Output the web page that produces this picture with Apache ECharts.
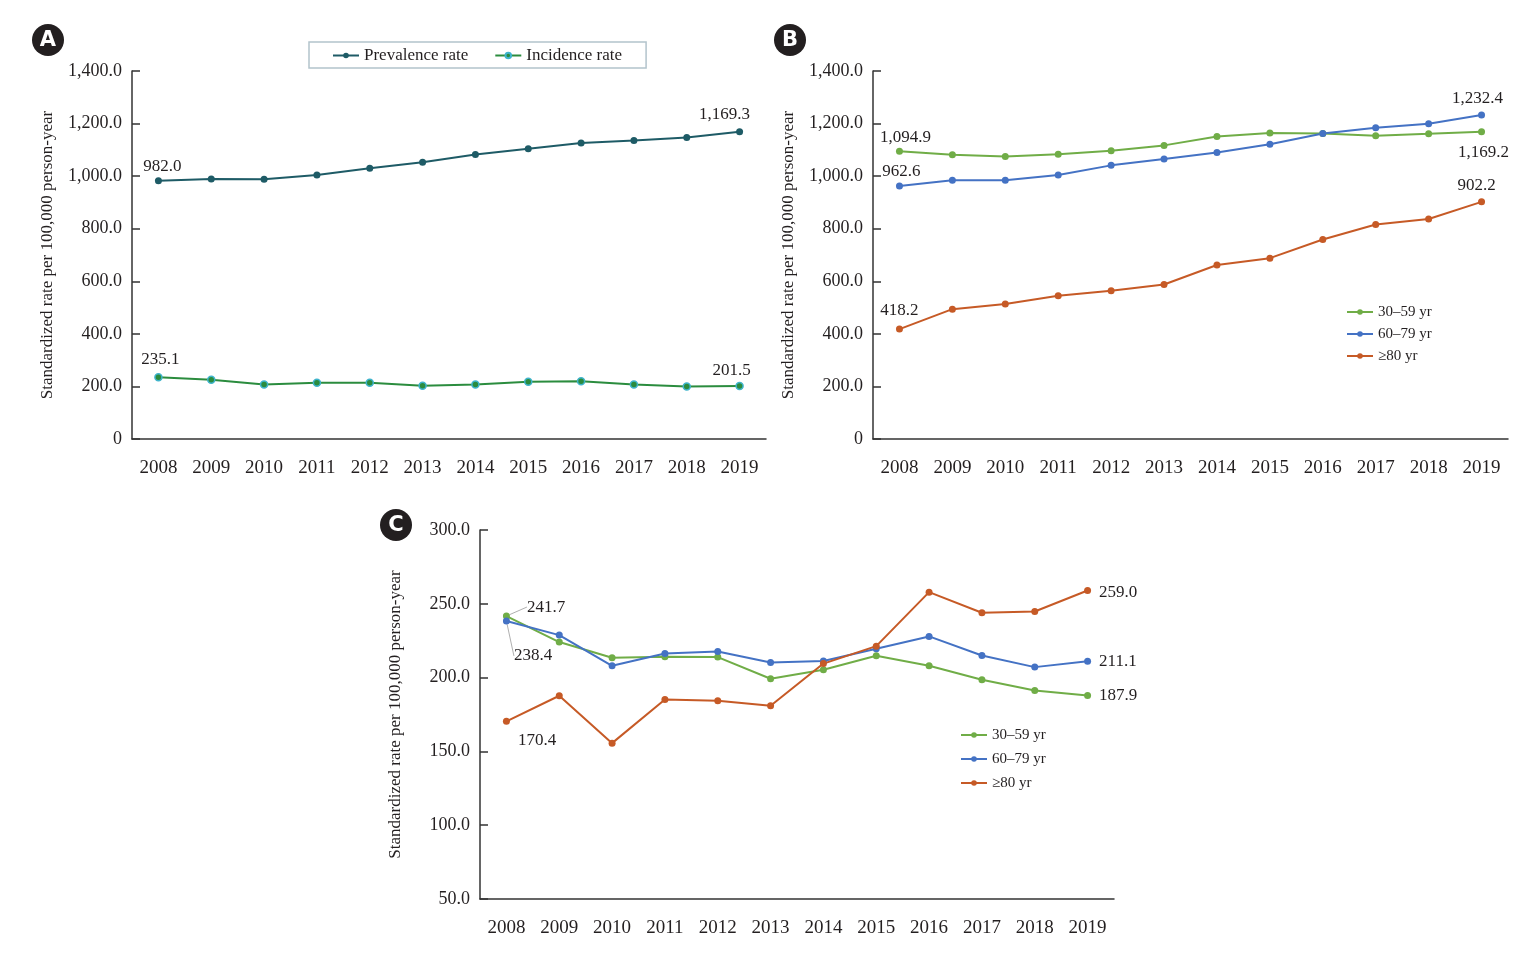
<!DOCTYPE html>
<html>
<head>
<meta charset="utf-8">
<title>Standardized rates 2008-2019</title>
<script src="https://cdn.jsdelivr.net/npm/echarts@6/dist/echarts.min.js"></script>
<style>
  html, body { margin: 0; padding: 0; background: #fff; }
  #main { width: 1539px; height: 963px; }
</style>
</head>
<body>
<div id="main"></div>
<script>
// data
var years = ['2008', '2009', '2010', '2011', '2012', '2013', '2014', '2015', '2016', '2017', '2018', '2019'];

// panel A
var prevalenceRate = [982.0, 989, 988, 1004, 1030, 1053, 1082, 1104, 1126, 1136, 1147, 1169.3];
var incidenceRate = [235.1, 225, 207, 214, 214, 203, 207, 218, 220, 207, 200, 201.5];

// panel B (prevalence by age)
var ageNames = ['30–59 yr', '60–79 yr', '≥80 yr'];
var prev3059 = [1094.9, 1081, 1075, 1083, 1097, 1117, 1151, 1164, 1162, 1154, 1161, 1169.2];
var prev6079 = [962.6, 984, 984, 1004, 1041, 1065, 1090, 1121, 1162, 1184, 1199, 1232.4];
var prev80 = [418.2, 494, 514, 545, 564, 588, 662, 688, 759, 816, 837, 902.2];

// panel C (incidence by age)
var inc3059 = [241.7, 224.1, 213.4, 214.1, 213.9, 199.2, 205.3, 214.8, 208.0, 198.5, 191.3, 187.9];
var inc6079 = [238.4, 228.8, 208.0, 216.3, 217.7, 210.3, 211.2, 219.5, 227.9, 215.0, 207.1, 211.1];
var inc80 = [170.4, 187.7, 155.6, 185.2, 184.3, 180.9, 209.5, 221.3, 257.9, 243.9, 244.8, 259.0];

// y axis ranges [min, max, interval]
var rangeAB = [0, 1400, 200];
var rangeC = [50, 300, 50];

var serif = '"Liberation Serif", "DejaVu Serif", serif';
var textColor = '#231f20';
var axisColor = '#333';
var colTeal = '#1e5b66', colIncid = '#2b8c3e';
var colGreen = '#70ad47', colBlue = '#4472c4', colOrange = '#c65a26';

function fmt(v) {
  if (v === 0) return '0';
  return v.toLocaleString('en-US', { minimumFractionDigits: 1, maximumFractionDigits: 1 });
}

// turn plain values into data items, labelling only the given indexes
function withLabels(values, marks) {
  return values.map(function (v, i) {
    if (marks[i]) {
      var item = { value: v, label: Object.assign({ show: true }, marks[i].label) };
      if (marks[i].labelLine) item.labelLine = marks[i].labelLine;
      return item;
    }
    return v;
  });
}

function xAxisOf(gi) {
  return {
    type: 'category', gridIndex: gi, data: years, boundaryGap: true,
    axisLine: { lineStyle: { color: axisColor, width: 1.5 } },
    axisTick: { alignWithLabel: true, inside: true, length: 7, lineStyle: { color: axisColor, width: 1.5 } },
    axisLabel: { color: textColor, fontFamily: serif, fontSize: 19, margin: 20 },
    splitLine: { show: false }
  };
}

function yAxisOf(gi, range) {
  return {
    type: 'value', gridIndex: gi, min: range[0], max: range[1], interval: range[2],
    name: 'Standardized rate per 100,000 person-year',
    nameLocation: 'middle', nameGap: 76,
    nameTextStyle: { color: textColor, fontFamily: serif, fontSize: 17 },
    axisLine: { show: true, lineStyle: { color: axisColor, width: 1.5 } },
    axisTick: { show: true, inside: true, length: 8, lineStyle: { color: axisColor, width: 1.5 } },
    axisLabel: { color: textColor, fontFamily: serif, fontSize: 18, margin: 10, formatter: fmt },
    splitLine: { show: false }
  };
}

function lineOf(name, gi, color, data, extra) {
  var s = {
    name: name, type: 'line', xAxisIndex: gi, yAxisIndex: gi,
    data: data, symbol: 'circle', symbolSize: 7, showSymbol: true,
    lineStyle: { color: color, width: 2 },
    itemStyle: { color: color },
    label: { show: false, color: textColor, fontFamily: serif, fontSize: 17,
      formatter: function (p) { return fmt(p.value); } },
    emphasis: { disabled: true },
    z: 3
  };
  return Object.assign(s, extra || {});
}

function badge(x, y, letter) {
  return {
    type: 'group', children: [
      { type: 'circle', shape: { cx: x, cy: y, r: 16 }, style: { fill: '#231f20' } },
      { type: 'text', x: x, y: y + 1, style: { text: letter, fill: '#fff', font: 'bold 21px "DejaVu Sans", sans-serif',
        align: 'center', verticalAlign: 'middle', textAlign: 'center', textVerticalAlign: 'middle' } }
    ]
  };
}

var chart = echarts.init(document.getElementById('main'));

var noLine = { show: false };
var guide = { show: true, lineStyle: { color: '#b0b0b0', width: 1 } };

var option = {
  animation: false,
  backgroundColor: '#fff',
  grid: [
    { left: 132, top: 71, width: 634, height: 368 },
    { left: 873, top: 71, width: 635, height: 368 },
    { left: 480, top: 530, width: 634, height: 369 }
  ],
  xAxis: [xAxisOf(0), xAxisOf(1), xAxisOf(2)],
  yAxis: [yAxisOf(0, rangeAB), yAxisOf(1, rangeAB), yAxisOf(2, rangeC)],
  legend: [
    {
      data: ['Prevalence rate', 'Incidence rate'], left: 309, top: 42, orient: 'horizontal',
      borderColor: '#b3c4cc', borderWidth: 1.5, padding: [5, 24, 4, 23], itemGap: 26,
      itemWidth: 26, itemHeight: 7, selectedMode: false,
      textStyle: { color: textColor, fontFamily: serif, fontSize: 17 }
    },
    {
      data: ageNames, left: 1346, top: 303, orient: 'vertical', itemGap: 4, padding: 0,
      itemWidth: 26, itemHeight: 7, selectedMode: false,
      textStyle: { color: textColor, fontFamily: serif, fontSize: 15, lineHeight: 18 }
    },
    {
      data: ageNames, left: 960, top: 726, orient: 'vertical', itemGap: 6, padding: 0,
      itemWidth: 26, itemHeight: 7, selectedMode: false,
      textStyle: { color: textColor, fontFamily: serif, fontSize: 15, lineHeight: 18 }
    }
  ],
  graphic: [badge(48, 40, 'A'), badge(790, 40, 'B'), badge(396, 525, 'C')],
  series: [
    // A
    lineOf('Prevalence rate', 0, colTeal, withLabels(prevalenceRate, {
      0: { label: { position: 'top', offset: [4, 3] } },
      11: { label: { position: 'top', offset: [-15, 0] } }
    })),
    lineOf('Incidence rate', 0, colIncid, withLabels(incidenceRate, {
      0: { label: { position: 'top', offset: [2, 0] } },
      11: { label: { position: 'top', offset: [-8, 2] } }
    }), { itemStyle: { color: colIncid, borderColor: '#3fb4cc', borderWidth: 1.5 } }),

    // B
    lineOf(ageNames[0], 1, colGreen, withLabels(prev3059, {
      0: { label: { position: 'top', offset: [6, 3] } },
      11: { label: { position: 'bottom', offset: [2, 4] } }
    })),
    lineOf(ageNames[1], 1, colBlue, withLabels(prev6079, {
      0: { label: { position: 'top', offset: [2, 3] } },
      11: { label: { position: 'top', offset: [-4, 0] } }
    })),
    lineOf(ageNames[2], 1, colOrange, withLabels(prev80, {
      0: { label: { position: 'top', offset: [0, -2] } },
      11: { label: { position: 'top', offset: [-5, 1] } }
    })),

    // C
    lineOf(ageNames[0], 2, colGreen, withLabels(inc3059, {
      0: { label: { position: 'right' }, labelLine: guide },
      11: { label: { position: 'right', distance: 8, offset: [0, 3] }, labelLine: noLine }
    }), {
      labelLayout: function (p) { if (p.dataIndex === 0) return { dx: 12, dy: -9 }; }
    }),
    lineOf(ageNames[1], 2, colBlue, withLabels(inc6079, {
      0: { label: { position: 'right' }, labelLine: guide },
      11: { label: { position: 'right', distance: 8, offset: [0, 2] }, labelLine: noLine }
    }), {
      labelLayout: function (p) { if (p.dataIndex === 0) return { dx: -1, dy: 35 }; }
    }),
    lineOf(ageNames[2], 2, colOrange, withLabels(inc80, {
      0: { label: { position: 'right', offset: [3, 19] } },
      11: { label: { position: 'right', distance: 8, offset: [0, 2] } }
    }))
  ]
};

chart.setOption(option);
</script>
</body>
</html>
